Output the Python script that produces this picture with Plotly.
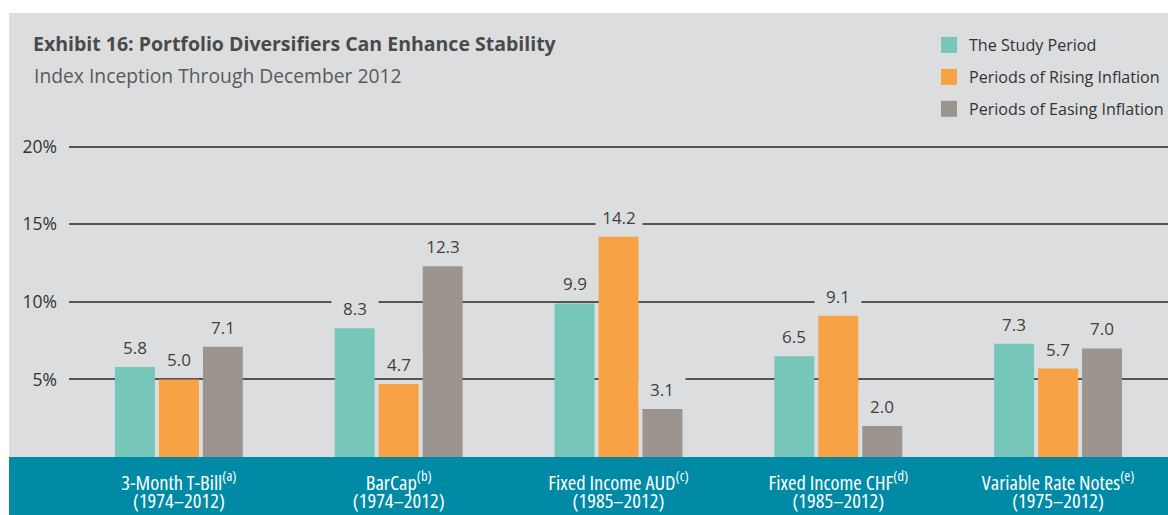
import plotly.graph_objects as go

# ---- data ----
category_names = ["3-Month T-Bill", "BarCap", "Fixed Income AUD", "Fixed Income CHF", "Variable Rate Notes"]
category_notes = ["(a)", "(b)", "(c)", "(d)", "(e)"]
category_years = ["(1974–2012)", "(1974–2012)", "(1985–2012)", "(1985–2012)", "(1975–2012)"]
study_period = [5.8, 8.3, 9.9, 6.5, 7.3]
rising_inflation = [5.0, 4.7, 14.2, 9.1, 5.7]
easing_inflation = [7.1, 12.3, 3.1, 2.0, 7.0]
series_names = ["The Study Period", "Periods of Rising Inflation", "Periods of Easing Inflation"]
ytick_vals = [5, 10, 15, 20]
ytick_text = ["5%", "10%", "15%", "20%"]

FONT = "Open Sans, sans-serif"
colors = ["#76C7B9", "#F7A244", "#9C948E"]
PANEL = "#DCDDDF"
BAND = "#008AA6"

BARGAP = 0.4
BARGROUPGAP = 0.0909
n_series = len(series_names)
slot = (1 - BARGAP) / n_series


def cond(s):
    return f"<span style='font-stretch:condensed'>{s}</span>"


xpos = list(range(len(category_names)))
line1 = [cond(f"{n}<sup>{s}</sup>") for n, s in zip(category_names, category_notes)]
line2 = [cond(y) for y in category_years]

fig = go.Figure()
all_series = [study_period, rising_inflation, easing_inflation]
annotations = []
for i, (name, vals) in enumerate(zip(series_names, all_series)):
    fig.add_trace(go.Bar(
        x=xpos, y=vals, name=name,
        marker=dict(color=colors[i], line=dict(width=0)),
        showlegend=False, hovertemplate="%{y:.1f}<extra>" + name + "</extra>",
    ))
    # legend entry with a larger square swatch
    fig.add_trace(go.Scatter(
        x=[None], y=[None], mode="markers", name=name,
        marker=dict(symbol="square", size=18, color=colors[i], line=dict(width=0)),
        legendgroup=name, showlegend=True,
    ))
    off = (i - (n_series - 1) / 2) * slot
    for xc, v in zip(xpos, vals):
        annotations.append(dict(
            x=xc + off, y=v, xref="x", yref="y", text=f"{v:.1f}", showarrow=False,
            xanchor="center", yanchor="bottom", yshift=7, width=46, borderpad=0,
            bgcolor=PANEL, font=dict(family=FONT, size=17, color="#3f3f3f"),
        ))

W, H = 1168, 515
L, R, T, B = 69, 0, 139, 58
pw = W - L - R
ph = H - T - B


def px_x(v):
    return (v - L) / pw


def px_y(v):
    return (H - B - v) / ph


shapes = [
    dict(type="rect", xref="paper", yref="paper", x0=px_x(9), x1=px_x(1168), y0=px_y(457), y1=px_y(13),
         fillcolor=PANEL, line=dict(width=0), layer="below"),
    dict(type="rect", xref="paper", yref="paper", x0=px_x(9), x1=px_x(1168), y0=px_y(515), y1=px_y(457),
         fillcolor=BAND, line=dict(width=0), layer="below"),
]

annotations.append(dict(text="Index Inception Through December 2012", xref="paper", yref="paper",
                        x=px_x(32), y=px_y(75), xanchor="left", yanchor="middle", showarrow=False,
                        font=dict(family=FONT, size=19.3, color="#5a5a58")))

fig.update_layout(
    width=W, height=H,
    margin=dict(l=L, r=R, t=T, b=B, autoexpand=False),
    paper_bgcolor="white", plot_bgcolor="rgba(0,0,0,0)",
    barmode="group", bargap=BARGAP, bargroupgap=BARGROUPGAP,
    font=dict(family=FONT, color="#444444"),
    title=dict(text="<b>Exhibit 16: Portfolio Diversifiers Can Enhance Stability</b>",
               x=33 / W, xanchor="left", y=1 - 44 / H, yanchor="middle",
               font=dict(family=FONT, size=19.5, color="#4a4a48")),
    annotations=annotations,
    shapes=shapes,
    showlegend=True,
    legend=dict(x=px_x(929), y=px_y(28), xanchor="left", yanchor="top",
                bgcolor="rgba(0,0,0,0)", font=dict(family=FONT, size=16.1, color="#333333"),
                tracegroupgap=8, traceorder="grouped", itemsizing="trace"),
    xaxis=dict(tickmode="array", tickvals=xpos, ticktext=line1,
               range=[-0.5, len(xpos) - 0.5], showgrid=False, zeroline=False, showline=False,
               ticks="", tickfont=dict(family=FONT, size=20.5, color="white"), ticklabelstandoff=11),
    xaxis2=dict(tickmode="array", tickvals=xpos, ticktext=line2, overlaying="x", anchor="y", side="bottom",
                range=[-0.5, len(xpos) - 0.5], showgrid=False, zeroline=False, showline=False,
                ticks="", tickfont=dict(family=FONT, size=20.5, color="white"), ticklabelstandoff=29),
    yaxis=dict(range=[0, 20.5], tickmode="array", tickvals=ytick_vals, ticktext=ytick_text,
               showgrid=True, gridcolor="#555555", gridwidth=1.5, zeroline=False, showline=False,
               ticks="", tickfont=dict(family=FONT, size=17.5, color="#333333"), ticklabelstandoff=11),
)
# invisible trace so that the second x axis is drawn
fig.add_trace(go.Scatter(x=[None], y=[None], xaxis="x2", yaxis="y", showlegend=False, hoverinfo="skip"))

fig.write_html("out.html")
